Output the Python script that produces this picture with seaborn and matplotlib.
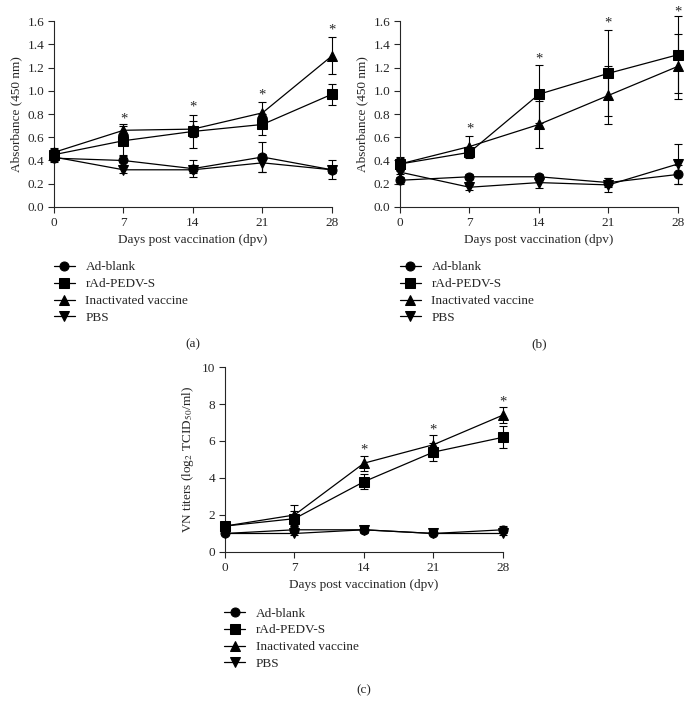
import numpy as np
import pandas as pd
import matplotlib
matplotlib.use("Agg")
import matplotlib.pyplot as plt
import seaborn as sns

days = [0, 7, 14, 21, 28]
groups = ["Ad-blank", "rAd-PEDV-S", "Inactivated vaccine", "PBS"]
markers = ["o", "s", "^", "v"]

# panel (a)
a_blank = [0.42, 0.40, 0.33, 0.43, 0.32]
a_blank_err = [0.03, 0.05, 0.07, 0.13, 0.08]
a_rad = [0.45, 0.57, 0.65, 0.71, 0.97]
a_rad_err = [0.05, 0.13, 0.14, 0.09, 0.09]
a_inact = [0.47, 0.66, 0.67, 0.81, 1.30]
a_inact_err = [0.04, 0.05, 0.07, 0.09, 0.16]
a_pbs = [0.43, 0.32, 0.32, 0.38, 0.32]
a_pbs_err = [0.02, 0.03, 0.03, 0.08, 0.03]
a_star_days = [7, 14, 21, 28]
a_star_y = [0.76, 0.86, 0.96, 1.52]

# panel (b)
b_blank = [0.23, 0.26, 0.26, 0.21, 0.28]
b_blank_err = [0.03, 0.02, 0.02, 0.04, 0.08]
b_rad = [0.37, 0.47, 0.97, 1.15, 1.31]
b_rad_err = [0.06, 0.05, 0.25, 0.37, 0.33]
b_inact = [0.37, 0.52, 0.71, 0.96, 1.21]
b_inact_err = [0.05, 0.09, 0.20, 0.25, 0.28]
b_pbs = [0.30, 0.17, 0.21, 0.19, 0.37]
b_pbs_err = [0.02, 0.02, 0.05, 0.06, 0.17]
b_star_days = [7, 14, 21, 28]
b_star_y = [0.67, 1.27, 1.58, 1.68]

# panel (c)
c_blank = [1.0, 1.2, 1.2, 1.0, 1.2]
c_blank_err = [0.1, 0.2, 0.15, 0.1, 0.2]
c_rad = [1.4, 1.8, 3.8, 5.4, 6.2]
c_rad_err = [0.2, 0.4, 0.4, 0.5, 0.6]
c_inact = [1.4, 2.0, 4.8, 5.8, 7.4]
c_inact_err = [0.1, 0.55, 0.4, 0.5, 0.45]
c_pbs = [1.0, 1.0, 1.2, 1.0, 1.0]
c_pbs_err = [0.1, 0.1, 0.1, 0.1, 0.1]
c_star_days = [14, 21, 28]
c_star_y = [5.5, 6.6, 8.1]

sns.set_style("ticks")
plt.rcParams["font.family"] = ["Liberation Serif", "DejaVu Serif"]
plt.rcParams["mathtext.fontset"] = "stix"
fs = 9.5


def make_df(vals, errs):
    rows = []
    for g, v, e in zip(groups, vals, errs):
        for d, y, s in zip(days, v, e):
            rows.append({"day": d, "value": y, "err": s, "group": g})
    return pd.DataFrame(rows)


def draw_panel(ax, df, ylim, yticks, ylabel, stars, letter, legend_pos):
    for g, m in zip(groups, markers):
        sub = df[df["group"] == g]
        eb = ax.errorbar(sub["day"], sub["value"], yerr=sub["err"], fmt="none",
                         ecolor="black", elinewidth=0.8, capsize=2.8, capthick=0.8, zorder=2)
        for art in eb.lines[1] + eb.lines[2]:
            art.set_clip_on(False)
    sns.lineplot(data=df, x="day", y="value", style="group", markers=dict(zip(groups, markers)),
                 dashes=False, color="black", linewidth=0.9, markersize=6.5,
                 markeredgecolor="black", ax=ax, legend=True, zorder=3)
    for ln in ax.lines:
        ln.set_clip_on(False)
    for d, y in zip(*stars):
        ax.text(d, y, "*", ha="center", va="center", fontsize=fs + 1)
    ax.set_xlim(0, 28)
    ax.set_ylim(*ylim)
    ax.set_xticks(days)
    ax.set_yticks(yticks)
    ax.tick_params(labelsize=fs, direction="out", length=4, width=0.8, pad=3)
    for sp in ["left", "bottom"]:
        ax.spines[sp].set_linewidth(0.8)
    sns.despine(ax=ax)
    ax.set_xlabel("Days post vaccination (dpv)", fontsize=fs)
    ax.set_ylabel(ylabel, fontsize=fs)
    ax.get_legend().remove()
    h, l = ax.get_legend_handles_labels()
    ax.figure.legend(h, l, loc="upper left", bbox_to_anchor=legend_pos, frameon=False,
                     fontsize=fs, handlelength=1.6, handletextpad=0.8,
                     labelspacing=0.35, borderaxespad=0)
    x0 = ax.get_position().x0 + ax.get_position().width / 2
    ax.figure.text(x0, legend_pos[1] - 0.124, letter, ha="center", va="center", fontsize=fs)


fig = plt.figure(figsize=(6.92, 7.15), dpi=100)
ax_a = fig.add_axes([0.0780, 0.7105, 0.4017, 0.2601])
ax_b = fig.add_axes([0.5780, 0.7105, 0.4017, 0.2601])
ax_c = fig.add_axes([0.3251, 0.2280, 0.4017, 0.2587])

ticks_ab = np.arange(0, 1.61, 0.2)
draw_panel(ax_a, make_df([a_blank, a_rad, a_inact, a_pbs], [a_blank_err, a_rad_err, a_inact_err, a_pbs_err]),
           (0, 1.6), ticks_ab, "Absorbance (450 nm)",
           (a_star_days, a_star_y), "(a)", (0.070, 0.642))
ax_a.set_yticklabels([f"{t:.1f}" for t in ticks_ab])
draw_panel(ax_b, make_df([b_blank, b_rad, b_inact, b_pbs], [b_blank_err, b_rad_err, b_inact_err, b_pbs_err]),
           (0, 1.6), ticks_ab, "Absorbance (450 nm)",
           (b_star_days, b_star_y), "(b)", (0.570, 0.642))
ax_b.set_yticklabels([f"{t:.1f}" for t in ticks_ab])
draw_panel(ax_c, make_df([c_blank, c_rad, c_inact, c_pbs], [c_blank_err, c_rad_err, c_inact_err, c_pbs_err]),
           (0, 10), [0, 2, 4, 6, 8, 10], r"VN titers (log$_2$ TCID$_{50}$/ml)",
           (c_star_days, c_star_y), "(c)", (0.316, 0.158))

fig.savefig("out.png", dpi=100)
